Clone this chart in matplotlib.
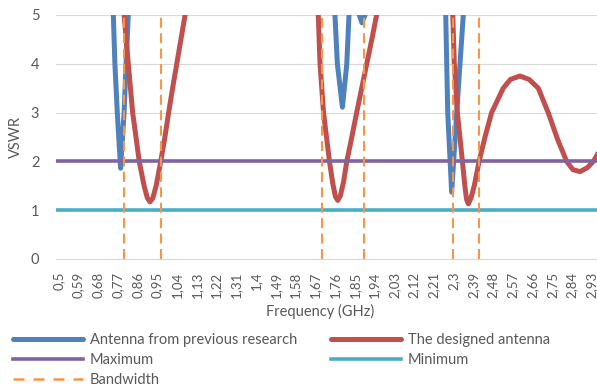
import numpy as np
import matplotlib
matplotlib.use("Agg")
import matplotlib.pyplot as plt

plt.rcParams['font.family'] = ['Lato', 'DejaVu Sans']

# VSWR (values above 5 are off the chart)
prev_freq = [0.50, 0.70, 0.740, 0.750, 0.757, 0.768, 0.783, 0.799, 0.808, 0.818, 0.83,
             1.20, 1.70, 1.750, 1.760, 1.771, 1.794, 1.814, 1.824, 1.835, 1.860, 1.871,
             1.883, 1.897, 1.91, 2.10, 2.25, 2.265, 2.274, 2.292, 2.315, 2.345, 2.36, 2.60, 3.00]
prev_vswr = [9, 8, 6.2, 5.0, 4.0, 3.0, 1.86, 3.0, 4.0, 5.0, 6.5,
             9, 8, 6.2, 5.0, 4.0, 3.11, 4.0, 5.0, 6.0, 5.5, 5.0,
             4.84, 5.0, 5.5, 9, 6.5, 5.0, 3.0, 1.37, 3.0, 5.0, 6.5, 9, 9]

designed_freq = [0.50, 0.75, 0.785, 0.799, 0.818, 0.838, 0.868, 0.89, 0.905, 0.917, 0.93,
                 0.945, 0.966, 0.985, 1.002, 1.02, 1.039, 1.058, 1.077, 1.095, 1.20, 1.50,
                 1.66, 1.684, 1.692, 1.708, 1.735, 1.75, 1.762, 1.773, 1.785, 1.80, 1.814,
                 1.837, 1.859, 1.882, 1.905, 1.928, 1.95, 1.97, 2.10, 2.27, 2.297, 2.304,
                 2.318, 2.341, 2.352, 2.36, 2.368, 2.38, 2.395, 2.417, 2.444, 2.474, 2.527,
                 2.56, 2.603, 2.645, 2.687, 2.732, 2.775, 2.816, 2.845, 2.877, 2.91, 2.938,
                 2.97, 3.00]
designed_vswr = [9, 7, 5.6, 5.0, 4.0, 3.0, 2.0, 1.5, 1.25, 1.17, 1.25,
                 1.5, 2.0, 2.5, 3.0, 3.5, 4.0, 4.5, 5.0, 5.5, 8, 9,
                 6.5, 5.0, 4.0, 3.0, 2.0, 1.55, 1.28, 1.2, 1.3, 1.6, 2.0,
                 2.5, 3.0, 3.5, 4.0, 4.5, 5.0, 5.5, 8, 6.5, 5.0, 4.0,
                 3.0, 2.0, 1.5, 1.22, 1.13, 1.25, 1.5, 2.0, 2.5, 3.0, 3.5,
                 3.68, 3.75, 3.68, 3.5, 3.0, 2.45, 2.0, 1.83, 1.79, 1.87, 2.0,
                 2.25, 2.55]

max_vswr = 2
min_vswr = 1
bandwidth_edges = [0.80, 0.966, 1.70, 1.892, 2.297, 2.417]

tick_freqs = [round(0.5 + 0.09 * k, 2) for k in range(28)]
tick_labels = [f"{v:.2f}".rstrip('0').replace('.', ',') for v in tick_freqs]

gray = '#595959'
W, H = 597, 392
fig = plt.figure(figsize=(W / 100, H / 100), dpi=100)
ax = fig.add_axes([56 / W, 133 / H, (610 - 56) / W, 244 / H])

ax.grid(axis='y', color='#D9D9D9', lw=0.8, zorder=0)
l1, = ax.plot(prev_freq, prev_vswr, color='#4F81BD', lw=3.6, solid_joinstyle='round',
              solid_capstyle='round', zorder=2)
l2, = ax.plot(designed_freq, designed_vswr, color='#C0504D', lw=3.6, solid_joinstyle='round',
              solid_capstyle='round', zorder=3)
l3 = ax.axhline(max_vswr, color='#8064A2', lw=2.6, zorder=4)
l4 = ax.axhline(min_vswr, color='#4BACC6', lw=2.6, zorder=5)
ax.vlines(bandwidth_edges, 0, 5, colors='#F79646', lw=1.5, linestyles=(0, (4.8, 2.6)), zorder=6)
l5, = ax.plot([], [], color='#F79646', lw=1.8, ls=(0, (4.4, 3.6)))

ax.set_xlim(0.4886, 0.4886 + 554 / 219.4)
ax.set_ylim(0, 5)
ax.set_xticks(tick_freqs)
ax.set_xticklabels(tick_labels, rotation=90, fontsize=9.5, color=gray)
ax.set_yticks(range(6))
ax.set_yticklabels([str(i) for i in range(6)], fontsize=10.5, color=gray)
ax.tick_params(axis='x', length=0, pad=9)
ax.tick_params(axis='y', length=0, pad=12)
for s in ['top', 'right', 'left']:
    ax.spines[s].set_visible(False)
ax.spines['bottom'].set_color('#D9D9D9')
ax.spines['bottom'].set_linewidth(0.8)

ax.set_xlabel('Frequency (GHz)', fontsize=10.5, color=gray, va='center')
ax.xaxis.set_label_coords((319.7 - 56) / 554, (392 - 311 - 133) / 244)
ax.set_ylabel('VSWR', fontsize=10.5, color=gray, va='center')
ax.yaxis.set_label_coords((16 - 56) / 554, 0.5)

fig.legend([l1, l3, l5, l2, l4],
           ['Antenna from previous research', 'Maximum', 'Bandwidth',
            'The designed antenna', 'Minimum'],
           loc='upper left', bbox_to_anchor=(12.7 / W, 1 - 333 / H), ncol=2,
           frameon=False, fontsize=10.5, labelcolor=gray, handlelength=4.8,
           handletextpad=0.5, columnspacing=2.3, labelspacing=0.41, borderpad=0,
           borderaxespad=0)

fig.savefig('out.png', dpi=100)
